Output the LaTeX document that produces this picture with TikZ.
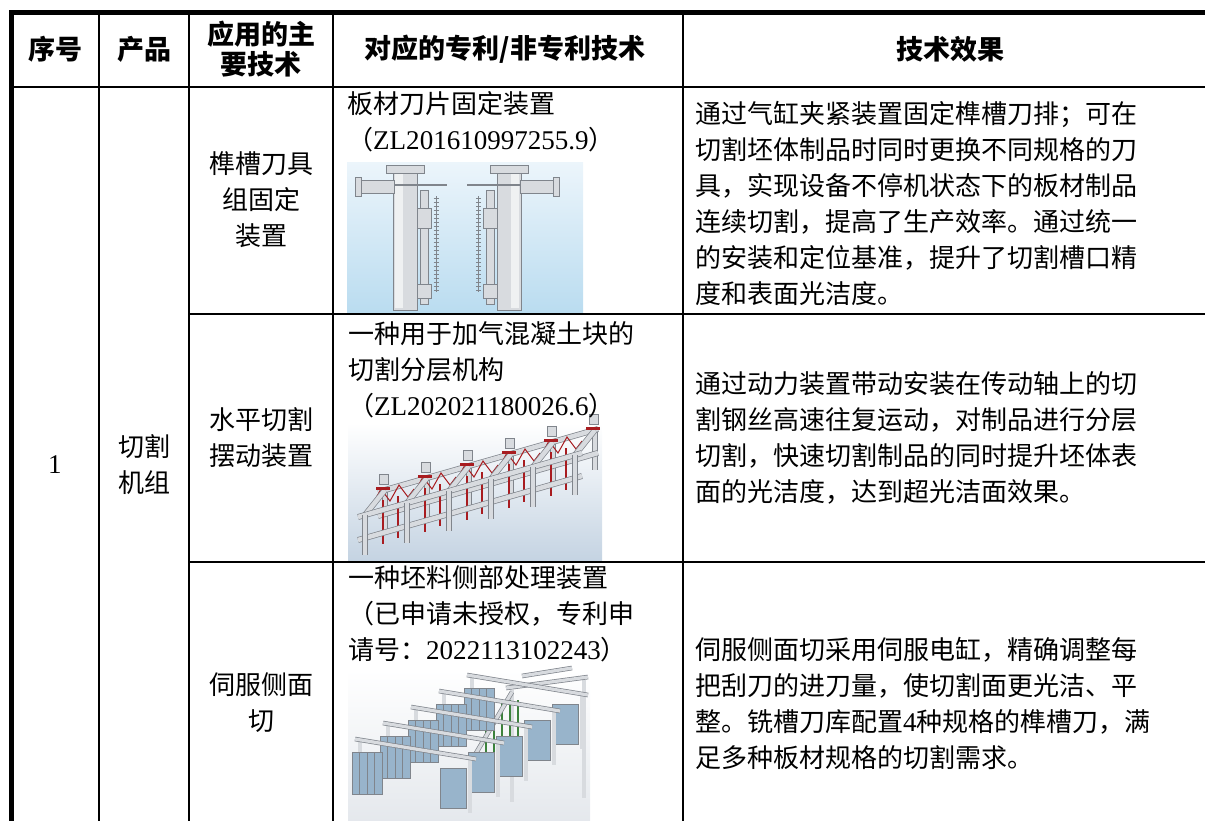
\documentclass[tikz,border=0pt]{standalone}
\usepackage{fontspec}
\setmainfont{Noto Sans CJK SC}
\newfontfamily\lat[Scale=1.04]{Liberation Serif}
\definecolor{sky1}{RGB}{236,245,251}
\definecolor{sky2}{RGB}{186,220,240}
\definecolor{fog1}{RGB}{226,230,235}
\definecolor{fog2}{RGB}{196,211,226}
\definecolor{steel}{RGB}{216,219,223}
\definecolor{steeledge}{RGB}{128,133,140}
\definecolor{wire}{RGB}{168,28,32}
\definecolor{panel}{RGB}{152,180,203}
\definecolor{lime}{RGB}{60,130,60}

\begin{document}
\begin{tikzpicture}[x=1pt,y=-1pt,
    every node/.style={inner sep=0pt},
    head/.style={font=\fontsize{27}{30}\selectfont\bfseries,align=center},
    midcell/.style={font=\fontsize{26}{36}\selectfont,align=center},
    body/.style={font=\fontsize{26}{36}\selectfont,align=left,anchor=west},
    frame/.style={line width=5pt},
    rule/.style={line width=2.6pt},
    part/.style={fill=steel,draw=steeledge,line width=0.6pt},
    tube/.style={draw=steeledge,line width=0.7pt,double=steel,double distance=3.2pt},
    redtube/.style={draw=wire,line width=1.8pt}]
    \useasboundingbox (0,0) rectangle (1205,820);

    % picture 1
    \shade[top color=sky1,bottom color=sky2] (347,162) rectangle (583,312);
    \foreach \s/\d in {1/0,-1/914}{
      \begin{scope}[xshift=\d pt,xscale=\s]
        \filldraw[part] (393,172) rectangle (417,310);
        \fill[white!60!steel] (395,174) rectangle (403,308);
        \filldraw[part] (386,165) rectangle (424,173);
        \filldraw[part] (360,180) rectangle (394,193);
        \filldraw[part] (355,177) rectangle (361,196);
        \draw[steeledge,line width=1.5pt] (394,185) -- (447,185);
        \filldraw[part] (420,190) rectangle (428,304);
        \filldraw[part] (417,208) rectangle (431,228);
        \filldraw[part] (417,284) rectangle (431,298);
        \draw[steeledge,line width=0.6pt] (436,196) -- (436,292);
        \foreach \y in {198,202,...,290}
          \draw[steeledge,line width=0.5pt] (433.5,\y) -- (438.5,\y);
      \end{scope}}

    % picture 2
    \shade[top color=white,bottom color=fog2] (348,423) rectangle (602,562);
    \begin{scope}[tube/.append style={double distance=4.5pt}]
      \foreach \i in {0,...,5}
        \draw[tube] (385+42*\i,490-12*\i) -- ++(0,40);
      \draw[tube] (378,492) -- (598,429);
      \draw[tube] (378,516) -- (598,453);
      \foreach \i in {0,...,4}{
        \draw[redtube] (383+42*\i,500-12*\i) -- ++(0,44);
        \draw[redtube] (398+42*\i,496-12*\i) -- ++(0,42);
        \draw[wire,line width=1pt] (372+42*\i,505-12*\i) -- ++(9,-16) -- ++(9,12)
          -- ++(9,-16) -- ++(9,12) -- ++(6,-8);
      }
      \foreach \i in {0,...,5}{
        \draw[tube] (365+42*\i,515-12*\i) -- (385+42*\i,490-12*\i);
        \filldraw[part] (379+42*\i,484-12*\i) rectangle ++(9,-10);
        \fill[wire] (376+42*\i,487-12*\i) rectangle ++(14,3);
      }
      \draw[tube] (358,517) -- (582,453);
      \draw[tube] (358,540) -- (582,476);
      \foreach \i in {0,...,5}
        \draw[tube] (365+42*\i,515-12*\i) -- ++(0,40);
    \end{scope}

    % picture 3
    \shade[top color=white,bottom color=fog1] (348,670) rectangle (590,835);
    \draw[tube] (512,690) -- (512,802);
    \draw[tube] (584,680) -- (584,798);
    \draw[tube] (522,676) -- (572,668);
    \draw[tube] (506,688) -- (588,677);
    \foreach \x in {486,494,...,518}
      \draw[lime,line width=1.2pt] (\x,700) -- (\x,758);
    \draw[tube] (472,760) -- (512,692);
    \foreach \i in {4,3,...,0}{
      \draw[tube] (360+28*\i,740-16*\i) -- ++(0,55);
      \draw[tube] (470+28*\i,758-16*\i) -- ++(0,55);
      \filldraw[fill=panel,draw=steeledge,line width=0.5pt] (440+28*\i,768-16*\i) rectangle ++(26,40);
      \draw[tube] (355+28*\i,739-16*\i) -- (476+28*\i,759-16*\i);
      \filldraw[fill=panel,draw=steeledge,line width=0.5pt] (352+28*\i,752-16*\i) rectangle ++(30,42);
      \foreach \k in {1,2,3}
        \draw[steeledge,line width=0.4pt] (352+28*\i+7.5*\k,752-16*\i) -- ++(0,42);
    }

    % table rules
    \draw[frame] (11,12.5) rectangle (1215,843);
    \draw[rule] (11,87) -- (1215,87);
    \draw[rule] (189,314) -- (1215,314);
    \draw[rule] (189,562) -- (1215,562);
    \foreach \x in {99,189,333,683}
      \draw[rule] (\x,12.5) -- (\x,843);

    % header
    \node[head] (hNo) at (55,49) {序号};
    \node[head] (hProd) at (144,49) {产品};
    \node[head] (hTech) at (261,49) {应用的主\\要技术};
    \node[head] (hPat) at (505,49) {对应的专利/非专利技术};
    \node[head] (hEff) at (950,49) {技术效果};

    \node[midcell,font=\fontsize{26}{36}\lat] (no1) at (55,465) {1};
    \node[midcell] (prod1) at (144,465) {切割\\机组};
    \node[midcell] (tech1) at (261,200) {榫槽刀具\\组固定\\装置};
    \node[midcell] (tech2) at (261,438) {水平切割\\摆动装置};
    \node[midcell] (tech3) at (261,703) {伺服侧面\\切};

    \node[body] (pat1) at (347,122) {板材刀片固定装置\\（{\lat ZL201610997255.9}）};
    \node[body] (pat2) at (348,370) {一种用于加气混凝土块的\\切割分层机构\\（{\lat ZL202021180026.6}）};
    \node[body] (pat3) at (348,614) {一种坯料侧部处理装置\\（已申请未授权，专利申\\请号：{\lat 2022113102243}）};

    \node[body] (eff1) at (695,203) {通过气缸夹紧装置固定榫槽刀排；可在\\切割坯体制品时同时更换不同规格的刀\\具，实现设备不停机状态下的板材制品\\连续切割，提高了生产效率。通过统一\\的安装和定位基准，提升了切割槽口精\\度和表面光洁度。};
    \node[body] (eff2) at (695,438) {通过动力装置带动安装在传动轴上的切\\割钢丝高速往复运动，对制品进行分层\\切割，快速切割制品的同时提升坯体表\\面的光洁度，达到超光洁面效果。};
    \node[body] (eff3) at (695,703) {伺服侧面切采用伺服电缸，精确调整每\\把刮刀的进刀量，使切割面更光洁、平\\整。铣槽刀库配置{\lat 4}种规格的榫槽刀，满\\足多种板材规格的切割需求。};
\end{tikzpicture}
\end{document}
